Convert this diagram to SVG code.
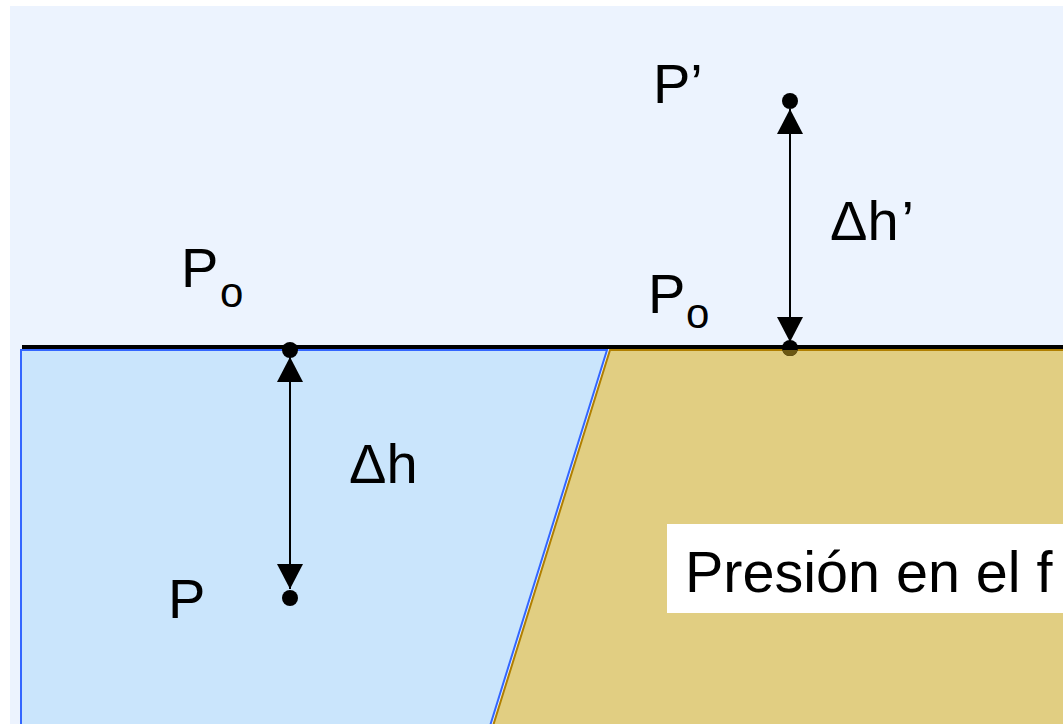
<svg xmlns="http://www.w3.org/2000/svg" width="1063" height="724" viewBox="0 0 1063 724">
  <defs>
    <marker id="tri" viewBox="0 0 25 26" refX="25" refY="13" markerWidth="25" markerHeight="26" markerUnits="userSpaceOnUse" orient="auto-start-reverse">
      <path d="M0,0 L25,13 L0,26 Z" fill="#000"/>
    </marker>
  </defs>
  <style>
    .lbl { font-family: "Liberation Sans", Arial, sans-serif; font-size: 56px; fill: #000; }
    .sub { font-family: "Liberation Sans", Arial, sans-serif; font-size: 42px; fill: #000; }
    .arrow { stroke: #000; stroke-width: 2; fill: none; marker-start: url(#tri); marker-end: url(#tri); }
    .dot { fill: #000; }
  </style>
  <rect x="0" y="0" width="1063" height="724" fill="#ffffff"/>
  <rect id="sky" x="10" y="6" width="1053" height="718" fill="#ECF3FE"/>
  <g id="water">
    <polygon points="21,350 607,350 490,726 21,726" fill="#CAE5FC" stroke="#3366FF" stroke-width="2"/>
  </g>
  <g id="ground">
    <polygon points="610,350 1065,350 1065,726 493,726" fill="#E1CE82" stroke="#B07F00" stroke-width="2"/>
  </g>
  <g id="points">
    <circle class="dot" cx="290" cy="350" r="8"/>
    <circle class="dot" cx="290" cy="598" r="8"/>
    <circle class="dot" cx="790" cy="101" r="8"/>
    <circle class="dot" cx="790" cy="348" r="8"/>
    <path d="M782.25,350 A8,8 0 0 0 797.75,350 Z" fill="#6B5712"/>
  </g>
  <g id="surface">
    <line x1="22" y1="347" x2="1063" y2="347" stroke="#000" stroke-width="4"/>
  </g>
  <g id="connectors">
    <line class="arrow" x1="290" y1="357" x2="290" y2="589"/>
    <line class="arrow" x1="790" y1="109" x2="790" y2="342"/>
  </g>
  <g id="labels">
    <text class="lbl" x="181" y="287">P</text>
    <text class="sub" x="220" y="307">o</text>
    <text class="lbl" x="648" y="313">P</text>
    <text class="sub" x="686" y="328">o</text>
    <text class="lbl" x="653" y="103">P’</text>
    <text class="lbl" x="349" y="483">Δh</text>
    <text class="lbl" x="830" y="240">Δh<tspan dx="3">’</tspan></text>
    <text class="lbl" x="168" y="618">P</text>
  </g>
  <g id="note">
    <rect x="667" y="524" width="400" height="89" fill="#ffffff"/>
    <text class="lbl" x="685" y="592" style="font-size:57.5px">Presión en el f</text>
  </g>
</svg>
